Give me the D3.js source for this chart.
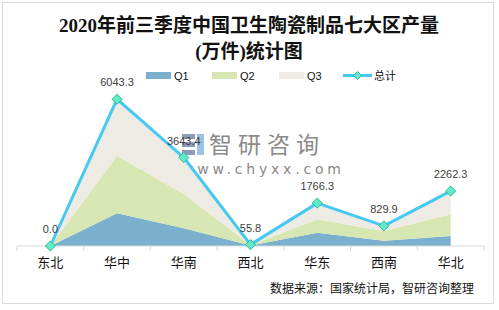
<!DOCTYPE html>
<html><head><meta charset="utf-8">
<script src="https://cdn.jsdelivr.net/npm/d3@7"></script>
<style>body{margin:0;background:#fff}svg{display:block}</style>
</head><body><svg id="c" width="499" height="310"></svg>
<script>
const categories = ["东北","华中","华南","西北","华东","西南","华北"];
const q1 = [0, 1347, 730, 20, 548, 218, 412];
const q2 = [0, 2374, 1410, 18, 552, 400, 894];
const q3 = [0, 2322, 1503, 17.8, 666.3, 211.9, 956.3];
const total = [0.0, 6043.3, 3643.4, 55.8, 1766.3, 829.9, 2262.3];
const seriesNames = ["Q1","Q2","Q3"];
const seriesColors = ["#7AB0CB","#D7E7B3","#EEEBE4"];
const lineName = "总计";
const yMax = 7000;

const svg = d3.select("#c");
svg.append("rect").attr("x",2.5).attr("y",2.5).attr("width",491).attr("height",301)
  .attr("fill","#fff").attr("stroke","#D9D9D9").attr("stroke-width",1);

const title = svg.append("text").attr("text-anchor","middle")
  .attr("font-family","'Liberation Serif','Noto Sans CJK SC',serif").attr("font-weight","bold")
  .attr("font-size",19).attr("fill","#111");
title.append("tspan").attr("x",249).attr("y",32).text("2020年前三季度中国卫生陶瓷制品七大区产量");
title.append("tspan").attr("x",249).attr("y",58).text("(万件)统计图");

const x = d3.scalePoint().domain(categories).range([17,484]).padding(0.5);
const band = d3.scaleBand().domain(categories).range([17,484]);
const y = d3.scaleLinear().domain([0,yMax]).range([246,76]);

// watermark
const wm = svg.append("g");
wm.append("rect").attr("x",182).attr("y",134).attr("width",13).attr("height",5).attr("fill","#8E9BB8");
wm.append("rect").attr("x",182).attr("y",142).attr("width",13).attr("height",5).attr("fill","#8E9BB8");
wm.append("rect").attr("x",182).attr("y",150).attr("width",13).attr("height",5).attr("fill","#8E9BB8");
wm.append("rect").attr("x",197).attr("y",134).attr("width",7).attr("height",21).attr("fill","#9CC3E6");
wm.append("text").attr("x",209).attr("y",153).attr("font-family","'Noto Sans CJK SC'")
  .attr("font-size",23).attr("fill","#8A8A8A").attr("letter-spacing",6).text("智研咨询");
wm.append("text").attr("x",182).attr("y",174).attr("font-family","'DejaVu Sans',sans-serif")
  .attr("font-size",14).attr("fill","#8A8A8A").attr("letter-spacing",3.8).text("www.chyxx.com");

const data = categories.map((c,i)=>({cat:c,Q1:q1[i],Q2:q2[i],Q3:q3[i]}));
const stacked = d3.stack().keys(seriesNames)(data);
const area = d3.area().x(d=>x(d.data.cat)).y0(d=>y(d[0])).y1(d=>y(d[1]));
svg.append("g").selectAll("path").data(stacked).join("path")
  .attr("d",area).attr("fill",(d,i)=>seriesColors[i]);

// axis
const ax = svg.append("g").attr("transform","translate(0,246)");
ax.append("line").attr("x1",17).attr("x2",484).attr("stroke","#D9D9D9");
const tickX = categories.map(c=>band(c)).concat([band.range()[1]]);
ax.selectAll("line.t").data(tickX).join("line").attr("class","t")
  .attr("x1",d=>d).attr("x2",d=>d).attr("y1",0).attr("y2",5).attr("stroke","#D9D9D9");
ax.selectAll("text").data(categories).join("text")
  .attr("x",d=>x(d)).attr("y",21).attr("text-anchor","middle")
  .attr("font-family","'Noto Sans CJK SC'").attr("font-size",13).attr("fill","#111").text(d=>d);

// total line
const line = d3.line().x((d,i)=>x(categories[i])).y(d=>y(d));
svg.append("path").datum(total).attr("d",line).attr("fill","none")
  .attr("stroke","#45C9F2").attr("stroke-width",3).attr("stroke-linejoin","round");
svg.append("g").selectAll("path").data(total).join("path")
  .attr("transform",(d,i)=>`translate(${x(categories[i])},${y(d)}) rotate(45)`)
  .attr("d","M-3.6,-3.6h7.2v7.2h-7.2z").attr("fill","#5EEBC6").attr("stroke","#2AAE92").attr("stroke-width",0.8);
svg.append("g").selectAll("text").data(total).join("text")
  .attr("x",(d,i)=>x(categories[i])).attr("y",d=>y(d)-13).attr("text-anchor","middle")
  .attr("font-family","'Liberation Sans',Arial,sans-serif").attr("font-size",11).attr("fill","#404040")
  .text(d=>d.toFixed(1));

// legend
const lg = svg.append("g").attr("font-family","'Liberation Sans','Noto Sans CJK SC',sans-serif").attr("font-size",11).attr("fill","#111");
const lx = [146,212,279];
seriesNames.forEach((n,i)=>{
  lg.append("rect").attr("x",lx[i]).attr("y",72).attr("width",25).attr("height",7).attr("fill",seriesColors[i]);
  lg.append("text").attr("x",lx[i]+28).attr("y",80).text(n);
});
lg.append("line").attr("x1",343).attr("x2",372).attr("y1",75.5).attr("y2",75.5).attr("stroke","#45C9F2").attr("stroke-width",3);
lg.append("path").attr("transform","translate(357.5,75.5) rotate(45)").attr("d","M-2.8,-2.8h5.6v5.6h-5.6z")
  .attr("fill","#5EEBC6").attr("stroke","#2AAE92").attr("stroke-width",0.8);
lg.append("text").attr("x",374).attr("y",80).attr("font-family","'Noto Sans CJK SC'").text(lineName);

svg.append("text").attr("x",474).attr("y",293).attr("text-anchor","end")
  .attr("font-family","'Noto Sans CJK SC'").attr("font-size",12).attr("fill","#111")
  .text("数据来源：国家统计局，智研咨询整理");
</script></body></html>
